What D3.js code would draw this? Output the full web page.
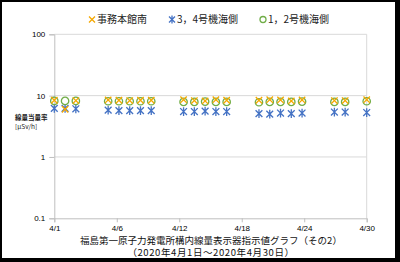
<!DOCTYPE html>
<html>
<head>
<meta charset="utf-8">
<script src="https://cdn.jsdelivr.net/npm/d3@7"></script>
<style>
body { margin: 0; background: #000; }
svg { display: block; }
text { font-family: "Liberation Sans", Arial, sans-serif; }
.jp { font-family: "Noto Sans CJK JP", "Noto Sans", sans-serif; }
</style>
</head>
<body>
<svg id="viz" width="400" height="262"></svg>
<script>
// day of April for each reading (weekdays only)
var days = [1, 2, 3, 6, 7, 8, 9, 10, 13, 14, 15, 16, 17, 20, 21, 22, 23, 24, 27, 28, 30];
// 事務本館南
var honkan = [8.4, 6.0, 8.3, 8.5, 8.4, 8.3, 8.4, 8.4, 8.6, 8.3, 8.2, 8.6, 8.4, 8.4, 8.6, 8.5, 8.2, 8.5, 8.3, 8.3, 8.6];
// 3，4号機海側
var unit34 = [6.2, 6.2, 6.1, 5.8, 5.7, 5.7, 5.7, 5.7, 5.5, 5.5, 5.6, 5.5, 5.5, 5.1, 5.0, 5.2, 5.1, 5.2, 5.4, 5.4, 5.3];
// 1，2号機海側
var unit12 = [8.2, 8.2, 8.2, 8.1, 8.1, 8.1, 8.1, 8.1, 7.9, 7.9, 8.0, 7.9, 7.9, 7.8, 7.9, 7.9, 7.9, 8.0, 7.9, 7.9, 8.1];
var yTicks = [0.1, 1, 10, 100];
// x ticks every 5.8 days from 4/1 to 4/30 (labels show the day part)
var xTicks = [1, 6.8, 12.6, 18.4, 24.2, 30];

var svg = d3.select("#viz");
svg.append("rect").attr("x", 2).attr("y", 2).attr("width", 393).attr("height", 256).attr("fill", "#fff");

var pLeft = 54.3, pRight = 366.7, pTop = 34.3, pBottom = 218.3;
var x = d3.scaleLinear().domain([1, 30]).range([pLeft, pRight]);
var y = d3.scaleLog().domain([0.1, 100]).range([pBottom, pTop]);

var g = svg.append("g");

// gridlines + plot border
g.selectAll(".grid").data(yTicks.slice(1)).enter().append("line")
    .attr("x1", pLeft).attr("x2", pRight)
    .attr("y1", d => y(d)).attr("y2", d => y(d))
    .attr("stroke", "#d9d9d9").attr("stroke-width", 1);
g.append("line").attr("x1", pRight).attr("x2", pRight).attr("y1", pTop).attr("y2", pBottom)
    .attr("stroke", "#d9d9d9");

// y axis
var yAxis = g.append("g").attr("transform", "translate(" + pLeft + ",0)")
    .call(d3.axisLeft(y).tickValues(yTicks).tickFormat(d => d === 0.1 ? "0.1" : String(d)).tickSize(5).tickPadding(4));
// x axis
var xAxis = g.append("g").attr("transform", "translate(0," + pBottom + ")")
    .call(d3.axisBottom(x).tickValues(xTicks).tickFormat(d => "4/" + Math.floor(d + 0.001)).tickSize(4).tickPadding(3));
[yAxis, xAxis].forEach(function(a) {
    a.select(".domain").attr("stroke", "#bfbfbf");
    a.selectAll(".tick line").attr("stroke", "#bfbfbf");
    a.selectAll("text").attr("fill", "#000").style("font-size", "8px").style("font-family", "'Liberation Sans', Arial, sans-serif");
});

var orange = "#f5a800", blue = "#4472c4", green = "#70ad47";

function xMark(sel, s) {
    sel.append("path").attr("d", "M" + -s + "," + -s + "L" + s + "," + s + "M" + -s + "," + s + "L" + s + "," + -s)
        .attr("stroke", orange).attr("stroke-width", 1.3).attr("fill", "none");
}
function starMark(sel, s) {
    sel.append("path").attr("d", "M" + -s + "," + -s + "L" + s + "," + s + "M" + -s + "," + s + "L" + s + "," + -s + "M0," + (-s - 1) + "L0," + (s + 1))
        .attr("stroke", blue).attr("stroke-width", 1.3).attr("fill", "none");
}
function circMark(sel, r) {
    sel.append("circle").attr("r", r).attr("stroke", green).attr("stroke-width", 1.3).attr("fill", "none");
}

// series: blue first, then green circles, orange x on top
var pts34 = g.selectAll(".p34").data(days).enter().append("g")
    .attr("transform", (d, i) => "translate(" + x(d) + "," + y(unit34[i]) + ")");
starMark(pts34, 3.4);
var pts12 = g.selectAll(".p12").data(days).enter().append("g")
    .attr("transform", (d, i) => "translate(" + x(d) + "," + y(unit12[i]) + ")");
circMark(pts12, 3.7);
var ptsH = g.selectAll(".ph").data(days).enter().append("g")
    .attr("transform", (d, i) => "translate(" + x(d) + "," + y(honkan[i]) + ")");
xMark(ptsH, 3.2);

// legend
var legend = [
    { name: "事務本館南", mx: 92, draw: s => xMark(s, 3) },
    { name: "3，4号機海側", mx: 172, draw: s => starMark(s, 3) },
    { name: "1，2号機海側", mx: 263, draw: s => circMark(s, 3) }
];
legend.forEach(function(l) {
    var lg = svg.append("g").attr("transform", "translate(" + l.mx + ",19.5)");
    l.draw(lg);
    svg.append("text").attr("class", "jp").attr("x", l.mx + 5).attr("y", 23)
        .style("font-size", "10px").attr("fill", "#222").text(l.name);
});

// y axis title
svg.append("text").attr("class", "jp").attr("x", 15).attr("y", 120)
    .style("font-size", "6.5px").style("font-weight", "bold").attr("fill", "#222").text("線量当量率");
svg.append("text").attr("class", "jp").attr("x", 15).attr("y", 128.5)
    .style("font-size", "6.5px").attr("fill", "#222").text("[μSv/h]");

// chart title
svg.append("text").attr("class", "jp").attr("x", 211).attr("y", 243.5).attr("text-anchor", "middle")
    .style("font-size", "9.5px").attr("fill", "#111").text("福島第一原子力発電所構内線量表示器指示値グラフ（その2）");
svg.append("text").attr("class", "jp").attr("x", 211).attr("y", 256).attr("text-anchor", "middle")
    .style("font-size", "9.5px").style("letter-spacing", "0.6px").attr("fill", "#111").text("（2020年4月1日～2020年4月30日）");
</script>
</body>
</html>
